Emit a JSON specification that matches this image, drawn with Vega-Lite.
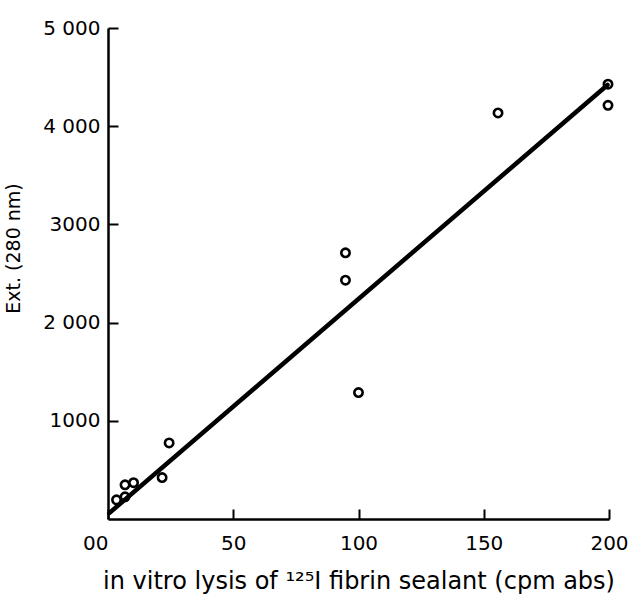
{
  "$schema": "https://vega.github.io/schema/vega-lite/v6.json",
  "autosize": "none",
  "width": 501,
  "height": 491,
  "padding": {"left": 108, "top": 28, "right": 31, "bottom": 76},
  "background": "white",
  "config": {
    "view": {"stroke": null},
    "font": "DejaVu Sans",
    "axis": {
      "grid": false,
      "domainColor": "black",
      "domainWidth": 2.5,
      "tickColor": "black",
      "tickWidth": 2,
      "tickSize": -10,
      "labelColor": "black",
      "labelFont": "DejaVu Sans",
      "labelFontSize": 20,
      "titleColor": "black",
      "titleFont": "DejaVu Sans",
      "titleFontWeight": "normal"
    }
  },
  "datasets": {
    "obs": [
      {"lysis": 3.4, "ext": 195},
      {"lysis": 6.8, "ext": 226},
      {"lysis": 6.8, "ext": 348},
      {"lysis": 10.2, "ext": 370},
      {"lysis": 21.6, "ext": 422},
      {"lysis": 24.4, "ext": 775},
      {"lysis": 94.8, "ext": 2711},
      {"lysis": 94.8, "ext": 2432},
      {"lysis": 100, "ext": 1288},
      {"lysis": 155.7, "ext": 4135},
      {"lysis": 199.6, "ext": 4428},
      {"lysis": 199.6, "ext": 4213}
    ],
    "fit": [
      {"lysis": 0.5, "ext": 60},
      {"lysis": 199.4, "ext": 4420}
    ]
  },
  "layer": [
    {
      "data": {"name": "fit"},
      "mark": {"type": "line", "color": "black", "strokeWidth": 4.5, "strokeCap": "round"},
      "encoding": {
        "x": {
          "field": "lysis",
          "type": "quantitative",
          "scale": {"domain": [0, 200], "nice": false},
          "axis": {
            "values": [0, 50, 100, 150, 200],
            "title": "in vitro lysis of ¹²⁵I fibrin sealant (cpm abs)",
            "titleFontSize": 24,
            "titlePadding": 16,
            "labelPadding": 24,
            "labelExpr": "datum.value == 0 ? '00' : datum.label",
            "labelAlign": {"condition": {"test": "datum.value == 0", "value": "right"}, "value": "center"},
            "labelFlush": false
          }
        },
        "y": {
          "field": "ext",
          "type": "quantitative",
          "scale": {"domain": [0, 5000], "nice": false},
          "axis": {
            "values": [1000, 2000, 3000, 4000, 5000],
            "title": "Ext. (280 nm)",
            "titleFontSize": 19,
            "titlePadding": 19,
            "titleY": 220,
            "labelPadding": 18,
            "labelExpr": "datum.value == 5000 ? '5 000' : datum.value == 4000 ? '4 000' : datum.value == 2000 ? '2 000' : datum.value == 3000 ? '3000' : '1000'",
            "labelFlush": false
          }
        }
      }
    },
    {
      "data": {"name": "obs"},
      "mark": {"type": "point", "shape": "circle", "filled": false, "color": "black", "strokeWidth": 2.6, "size": 70, "opacity": 1},
      "encoding": {
        "x": {"field": "lysis", "type": "quantitative"},
        "y": {"field": "ext", "type": "quantitative"}
      }
    }
  ]
}
